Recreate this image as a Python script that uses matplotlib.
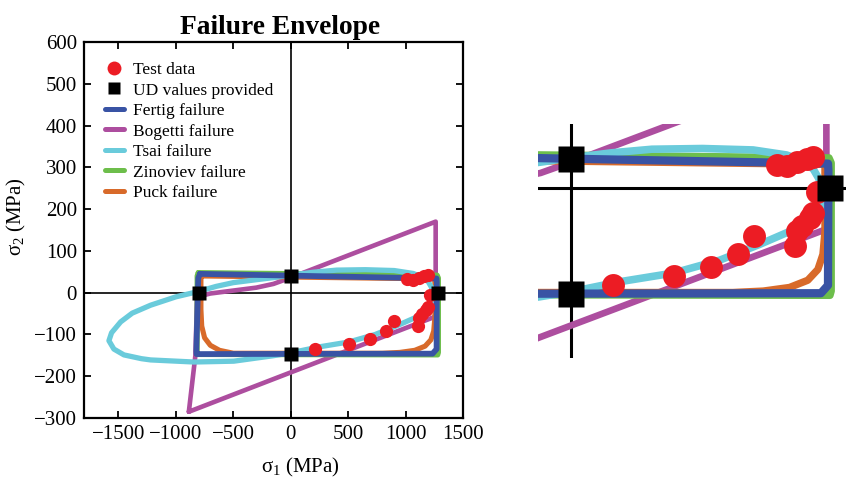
import numpy as np
import matplotlib
matplotlib.use('Agg')
import matplotlib.pyplot as plt
from matplotlib.lines import Line2D

plt.rcParams['font.family'] = ['Liberation Serif', 'DejaVu Serif']
plt.rcParams['mathtext.fontset'] = 'custom'
plt.rcParams['mathtext.rm'] = 'Liberation Serif'
plt.rcParams['mathtext.it'] = 'Liberation Serif'
plt.rcParams['mathtext.default'] = 'regular'

# test data (MPa)
test_s1 = [209, 510, 690, 827, 902, 1107, 1115, 1140, 1182, 1198, 1214, 1016, 1066, 1115, 1164, 1198]
test_s2 = [-135, -122, -110, -92, -67, -80, -60, -52, -42, -35, -5, 32, 30, 36, 41, 43]

# UD strength values
ud_s1 = [-800, 0, 0, 1280]
ud_s2 = [0, 40, -147, 0]

fertig_s1 = [-790, 1270, 1272, 1270, 1235, -820, -822, -805, -790]
fertig_s2 = [45, 34, 25, -135, -146, -147, -140, 35, 45]

bogetti_s1 = [-887, -830, -815, -700, -500, -300, -150, 0, 1262, 1262, -887]
bogetti_s2 = [-285, -150, -10, -2, 5, 12, 21, 36, 170, -57, -285]

tsai_s1 = [-815, -650, -500, -300, -150, 0, 200, 400, 650, 900, 1066, 1150, 1198, 1225, 1240,
           1240, 1200, 1115, 934, 736, 506, 242, 0, -153, -496, -843, -1220, -1300, -1452,
           -1540, -1583, -1560, -1481, -1380, -1220, -1000, -815]
tsai_s2 = [2, 15, 24, 31, 36, 42, 49, 54, 55, 53, 46, 37, 26, 13, -5,
           -31, -45, -56, -78, -100, -118, -130, -144, -151, -164, -166, -161, -158, -149,
           -135, -115, -96, -70, -49, -30, -10, 2]

zinoviev_s1 = [-805, 1275, 1286, 1286, 1280, -815, -815, -805]
zinoviev_s2 = [48, 42, 35, -143, -149, -148, 40, 48]

puck_s1 = [-775, 1255, 1255, 1245, 1220, 1170, 1080, 950, 800, -500, -620, -700, -750, -775, -782, -782, -775]
puck_s2 = [40, 33, -60, -92, -113, -128, -138, -143, -145, -145, -138, -126, -108, -80, -40, 33, 40]

c_red = '#ec1c24'
c_blue = '#3953a4'
c_mag = '#ad4e9f'
c_cyan = '#6acbdb'
c_green = '#6dbe4b'
c_orange = '#d86a2a'


def draw(ax, k, ms_c, ms_s, axlw):
    ax.axhline(0, color='black', lw=axlw, zorder=1)
    ax.axvline(0, color='black', lw=axlw, zorder=1)
    kw = dict(solid_joinstyle='round', solid_capstyle='round')
    ax.plot(bogetti_s1, bogetti_s2, color=c_mag, lw=2.9 * k, zorder=2, **kw)
    ax.plot(zinoviev_s1, zinoviev_s2, color=c_green, lw=3.2 * k, zorder=3, **kw)
    ax.plot(puck_s1, puck_s2, color=c_orange, lw=3.2 * k, zorder=3, **kw)
    ax.plot(tsai_s1, tsai_s2, color=c_cyan, lw=3.3 * k, zorder=4, **kw)
    ax.plot(fertig_s1, fertig_s2, color=c_blue, lw=3.6 * k, zorder=5, **kw)
    ax.plot(test_s1, test_s2, 'o', color=c_red, ms=ms_c, mec='none', zorder=6)
    ax.plot(ud_s1, ud_s2, 's', color='black', ms=ms_s, mec='none', zorder=7)


fig = plt.figure(figsize=(8.46, 4.78), dpi=100)
ax = fig.add_axes([84 / 846, 1 - 418 / 478, 379 / 846, 376 / 478])
draw(ax, 1.15, 9.5, 10.5, 1.2)
ax.set_xlim(-1800, 1500)
ax.set_ylim(-300, 600)
ax.set_xticks([-1500, -1000, -500, 0, 500, 1000, 1500])
ax.set_yticks(range(-300, 601, 100))
ax.set_xticklabels(['\u22121500', '\u22121000', '\u2212500', '0', '500', '1000', '1500'])
ax.set_yticklabels(['\u2212300', '\u2212200', '\u2212100', '0', '100', '200', '300', '400', '500', '600'])
ax.tick_params(direction='in', top=True, right=True, length=5, width=1.3, labelsize=15, pad=5)
for s in ax.spines.values():
    s.set_linewidth(1.6)
ax.set_title('Failure Envelope', fontsize=19.8, fontweight='bold', x=0.517)
ax.set_xlabel(r'$\sigma_1$ (MPa)', fontsize=15)
ax.set_ylabel(r'$\sigma_2$ (MPa)', fontsize=15)
ax.xaxis.set_label_coords(0.57, -0.1)
ax.yaxis.set_label_coords(-0.148, 0.535)

handles = [
    Line2D([], [], ls='none', marker='o', color=c_red, ms=10, mec='none'),
    Line2D([], [], ls='none', marker='s', color='black', ms=8.5, mec='none'),
    Line2D([], [], color=c_blue, lw=3.6, solid_capstyle='round'),
    Line2D([], [], color=c_mag, lw=3.6, solid_capstyle='round'),
    Line2D([], [], color=c_cyan, lw=3.6, solid_capstyle='round'),
    Line2D([], [], color=c_green, lw=3.6, solid_capstyle='round'),
    Line2D([], [], color=c_orange, lw=3.6, solid_capstyle='round'),
]
labels = ['Test data', 'UD values provided', 'Fertig failure', 'Bogetti failure',
          'Tsai failure', 'Zinoviev failure', 'Puck failure']
ax.legend(handles, labels, loc='upper left', bbox_to_anchor=(0.055, 0.947), frameon=False,
          fontsize=12.5, handlelength=1.1, handletextpad=0.5, labelspacing=0.25,
          borderpad=0, borderaxespad=0)

# zoomed view
axz = fig.add_axes([538 / 846, 1 - 358 / 478, 308 / 846, 234 / 478])
draw(axz, 1.65, 16.5, 19, 2.2)
axz.set_xlim(-163, 1359)
axz.set_ylim(-236, 89)
axz.axis('off')

fig.savefig('out.png', dpi=100)
